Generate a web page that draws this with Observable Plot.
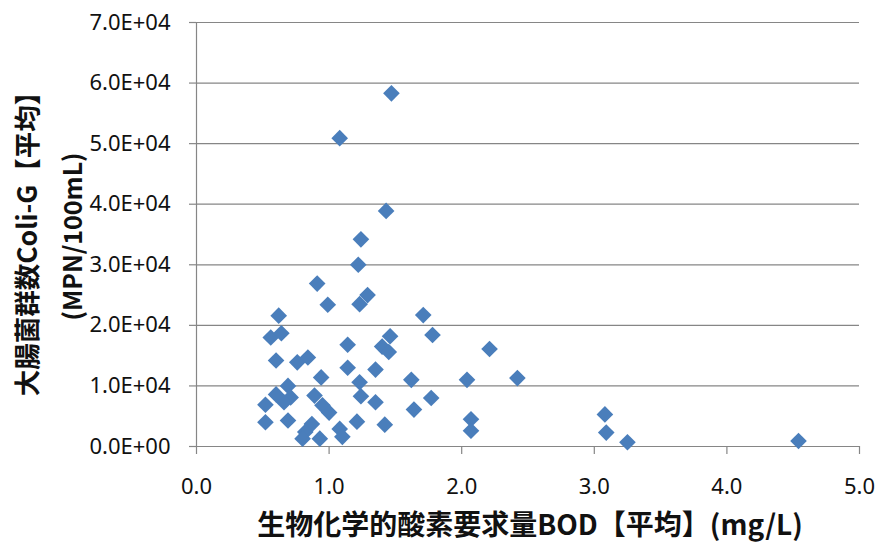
<!DOCTYPE html>
<html>
<head>
<meta charset="utf-8">
<script src="https://cdn.jsdelivr.net/npm/d3@7"></script>
<script src="https://cdn.jsdelivr.net/npm/@observablehq/plot@0.6"></script>
<style>
  html, body { margin: 0; padding: 0; background: #fff; }
</style>
</head>
<body>
<div id="chart"></div>
<script>
const bod = [1.47, 1.08, 1.43, 1.24, 1.22, 0.91, 1.29, 1.23, 0.99, 1.71,
             0.62, 0.56, 0.64, 1.46, 1.40, 1.45, 1.78, 1.14, 2.21, 0.60,
             0.76, 0.84, 1.14, 1.35, 0.94, 1.62, 2.04, 2.42, 1.23, 0.69,
             0.60, 0.71, 0.66, 0.52, 0.89, 0.95, 1.00, 1.24, 1.35, 1.77,
             1.64, 0.52, 0.69, 0.87, 0.82, 0.80, 0.93, 1.08, 1.10, 1.21,
             1.42, 2.07, 2.07, 3.08, 3.09, 3.25, 4.54];
const coli = [58300, 50900, 38900, 34200, 30000, 26900, 25000, 23500, 23400, 21700,
              21600, 18000, 18700, 18200, 16500, 15600, 18400, 16800, 16100, 14200,
              13900, 14700, 13000, 12700, 11400, 11000, 11000, 11300, 10600, 10000,
              8600, 8100, 7300, 6900, 8400, 6800, 5600, 8300, 7300, 8000,
              6100, 4000, 4300, 3700, 2400, 1300, 1300, 2900, 1600, 4100,
              3600, 4500, 2600, 5300, 2300, 700, 900];
const xTicks = [0, 1, 2, 3, 4, 5];
const xTickLabels = ["0.0", "1.0", "2.0", "3.0", "4.0", "5.0"];
const yTicks = [0, 10000, 20000, 30000, 40000, 50000, 60000, 70000];
const yTickLabels = ["0.0E+00", "1.0E+04", "2.0E+04", "3.0E+04", "4.0E+04", "5.0E+04", "6.0E+04", "7.0E+04"];
const yTitle1 = "大腸菌群数Coli-G【平均】";
const yTitle2 = "(MPN/100mL)";
const xTitle = "生物化学的酸素要求量BOD【平均】(mg/L)";

const data = bod.map((x, i) => ({x, y: coli[i]}));
const gray = "#868686";
const titleFont = "'Noto Sans CJK JP', 'Noto Sans', sans-serif";

const chart = Plot.plot({
  width: 880,
  height: 544,
  marginLeft: 196,
  marginRight: 21,
  marginTop: 22,
  marginBottom: 98,
  x: {domain: [0, 5]},
  y: {domain: [0, 70000]},
  style: {fontFamily: "'Noto Sans', sans-serif", fontSize: "22px", color: "#111", background: "#fff"},
  marks: [
    Plot.gridY(yTicks, {stroke: gray, strokeOpacity: 1, strokeWidth: 1.2}),
    Plot.ruleX([0], {stroke: gray, strokeWidth: 1.2}),
    Plot.axisY(yTicks, {
      tickSize: 7, tickPadding: 19, stroke: gray, strokeWidth: 1.2,
      tickFormat: d => yTickLabels[yTicks.indexOf(d)], label: null, fontSize: 22
    }),
    Plot.axisX(xTicks, {
      tickSize: 8, tickPadding: 24, stroke: gray, strokeWidth: 1.2,
      tickFormat: d => xTickLabels[xTicks.indexOf(d)], label: null, fontSize: 22
    }),
    Plot.dot(data, {x: "x", y: "y", symbol: "diamond2", r: 7.5, fill: "#4a7ebb", stroke: "none"}),
    Plot.text([yTitle1], {
      text: d => d, frameAnchor: "left", textAnchor: "middle", lineAnchor: "middle",
      dx: -168, dy: 3, rotate: -90,
      fontSize: 26.5, fontWeight: "bold", fontFamily: titleFont, fill: "#111"
    }),
    Plot.text([yTitle2], {
      text: d => d, frameAnchor: "left", textAnchor: "middle", lineAnchor: "middle",
      dx: -123, dy: 2, rotate: -90,
      fontSize: 25, fontWeight: "bold", fontFamily: titleFont, fill: "#111"
    }),
    Plot.text([xTitle], {
      text: d => d, frameAnchor: "bottom", textAnchor: "middle", lineAnchor: "middle",
      dy: 80, dx: 2,
      fontSize: 28, fontWeight: "bold", fontFamily: titleFont, fill: "#111"
    })
  ]
});
document.getElementById("chart").appendChild(chart);
</script>
</body>
</html>
